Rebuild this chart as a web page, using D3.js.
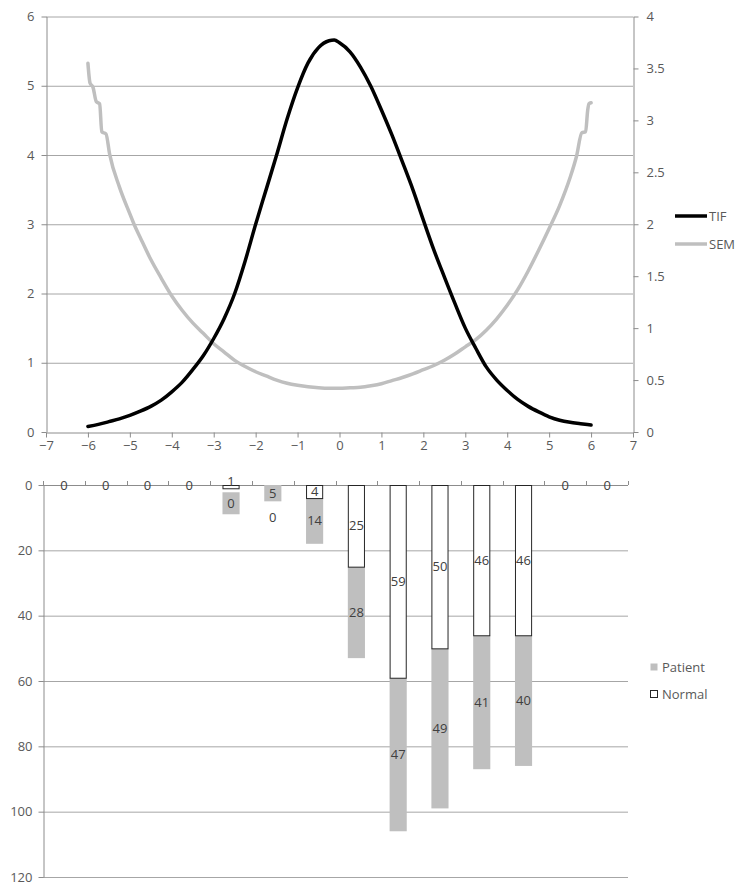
<!DOCTYPE html>
<html>
<head>
<meta charset="utf-8">
<script src="https://cdn.jsdelivr.net/npm/d3@7"></script>
<style>
  html, body { margin: 0; padding: 0; background: #fff; }
  svg { display: block; }
  text { font-family: "Open Sans", "Noto Sans", sans-serif; }
</style>
</head>
<body>
<svg id="chart" width="742" height="891"></svg>
<script>
// ---------- DATA ----------
const tifTheta = [-6, -5.75, -5.5, -5.25, -5, -4.75, -4.5, -4.25, -4, -3.75, -3.5, -3.25, -3, -2.75, -2.5, -2.25, -2, -1.75, -1.5, -1.25, -1, -0.75, -0.5, -0.25, -0.125, 0, 0.25, 0.5, 0.75, 1, 1.25, 1.5, 1.75, 2, 2.25, 2.5, 2.75, 3, 3.25, 3.5, 3.75, 4, 4.25, 4.5, 4.75, 5, 5.25, 5.5, 5.75, 6];
const tifValues = [0.08, 0.11, 0.15, 0.19, 0.24, 0.30, 0.37, 0.46, 0.58, 0.72, 0.90, 1.10, 1.35, 1.64, 2.0, 2.47, 3.0, 3.5, 4.0, 4.52, 4.97, 5.33, 5.55, 5.65, 5.66, 5.62, 5.49, 5.27, 4.99, 4.65, 4.29, 3.9, 3.5, 3.06, 2.63, 2.24, 1.86, 1.5, 1.21, 0.94, 0.75, 0.60, 0.47, 0.37, 0.29, 0.22, 0.17, 0.14, 0.12, 0.10];

const semTheta = [-6, -5.95, -5.88, -5.8, -5.72, -5.67, -5.57, -5.48, -5.25, -5, -4.9, -4.75, -4.5, -4.25, -4, -3.75, -3.5, -3.25, -3, -2.75, -2.5, -2.25, -2, -1.75, -1.5, -1.25, -1, -0.75, -0.5, -0.25, 0, 0.25, 0.5, 0.75, 1, 1.25, 1.5, 1.75, 2, 2.25, 2.5, 2.75, 3, 3.25, 3.5, 3.75, 4, 4.25, 4.5, 4.75, 5, 5.25, 5.5, 5.65, 5.78, 5.87, 5.92, 5.95, 6];
const semValues = [3.55, 3.36, 3.32, 3.18, 3.16, 2.89, 2.87, 2.67, 2.36, 2.1, 2.0, 1.87, 1.66, 1.48, 1.31, 1.17, 1.05, 0.95, 0.85, 0.77, 0.69, 0.63, 0.58, 0.54, 0.5, 0.47, 0.45, 0.435, 0.425, 0.42, 0.42, 0.425, 0.43, 0.445, 0.465, 0.495, 0.525, 0.56, 0.6, 0.64, 0.69, 0.75, 0.82, 0.89, 0.98, 1.09, 1.22, 1.37, 1.55, 1.75, 1.96, 2.18, 2.45, 2.65, 2.88, 2.89, 3.1, 3.16, 3.17];

const topXTicks = [-7, -6, -5, -4, -3, -2, -1, 0, 1, 2, 3, 4, 5, 6, 7];
const leftTicks = [0, 1, 2, 3, 4, 5, 6];
const rightTicks = [0, 0.5, 1, 1.5, 2, 2.5, 3, 3.5, 4];
const topSeries = ["TIF", "SEM"];

const categories = ["-6.5", "-5.5", "-4.5", "-3.5", "-2.5", "-1.5", "-0.5", "0.5", "1.5", "2.5", "3.5", "4.5", "5.5", "6.5"];
const normal  = [0, 0, 0, 0, 1, 0, 4, 25, 59, 50, 46, 46, 0, 0];
const patient = [0, 0, 0, 0, 0, 5, 14, 28, 47, 49, 41, 40, 0, 0];
const bottomTicks = [0, 20, 40, 60, 80, 100, 120];
const bottomSeries = ["Patient", "Normal"];

// ---------- STYLE ----------
const gridColor = "#a6a6a6";
const axisColor = "#8c8c8c";
const tickText = "#595959";
const labelText = "#404040";
const grayFill = "#bfbfbf";
const fs = "13px";

const svg = d3.select("#chart");
svg.append("rect").attr("width", 742).attr("height", 891).attr("fill", "#fff");

// ---------- TOP CHART ----------
const x = d3.scaleLinear().domain([-7, 7]).range([46, 633]);
const yL = d3.scaleLinear().domain([0, 6]).range([432, 16.5]);
const yR = d3.scaleLinear().domain([0, 4]).range([432, 16.5]);

const topG = svg.append("g");
topG.append("g").selectAll("line").data(leftTicks.filter(d => d > 0)).join("line")
  .attr("x1", x(-7)).attr("x2", x(7))
  .attr("y1", d => yL(d) + 0.5).attr("y2", d => yL(d) + 0.5)
  .attr("stroke", gridColor).attr("stroke-width", 1);

function styleAxis(g) {
  g.select(".domain").attr("stroke", axisColor);
  g.selectAll(".tick line").attr("stroke", axisColor);
  g.selectAll(".tick text").attr("fill", tickText).style("font-size", fs)
    .style("font-family", '"Open Sans", "Noto Sans", sans-serif');
}

topG.append("g").attr("transform", "translate(46.5,0)")
  .call(d3.axisLeft(yL).tickValues(leftTicks).tickFormat(d3.format("d")).tickSize(5).tickSizeOuter(0).tickPadding(7))
  .call(styleAxis);
topG.append("g").attr("transform", `translate(${x(7) + 0.5},0)`)
  .call(d3.axisRight(yR).tickValues(rightTicks).tickFormat(d => String(d)).tickSize(5).tickSizeOuter(0).tickPadding(8))
  .call(styleAxis);
topG.append("g").attr("transform", `translate(0,${yL(0) + 0.5})`)
  .call(d3.axisBottom(x).tickValues(topXTicks).tickFormat(d3.format("d")).tickSize(5).tickSizeOuter(0).tickPadding(3))
  .call(styleAxis);

const tifData = tifTheta.map((t, i) => [t, tifValues[i]]);
const semData = semTheta.map((t, i) => [t, semValues[i]]);

topG.append("path").datum(semData)
  .attr("fill", "none").attr("stroke", grayFill).attr("stroke-width", 3.5)
  .attr("stroke-linejoin", "round").attr("stroke-linecap", "round")
  .attr("d", d3.line().x(d => x(d[0])).y(d => yR(d[1])).curve(d3.curveMonotoneX));

topG.append("path").datum(tifData)
  .attr("fill", "none").attr("stroke", "#000").attr("stroke-width", 3.5)
  .attr("stroke-linejoin", "round").attr("stroke-linecap", "round")
  .attr("d", d3.line().x(d => x(d[0])).y(d => yL(d[1])).curve(d3.curveMonotoneX));

// top legend
const topLegColors = { TIF: "#000", SEM: grayFill };
const tl = topG.append("g").selectAll("g").data(topSeries).join("g")
  .attr("transform", (d, i) => `translate(675,${216 + i * 28})`);
tl.append("line").attr("x1", 0).attr("x2", 32).attr("y1", 0).attr("y2", 0)
  .attr("stroke", d => topLegColors[d]).attr("stroke-width", 3.5);
tl.append("text").attr("x", 34).attr("y", 0).attr("dy", "0.35em")
  .attr("fill", tickText).style("font-size", fs).text(d => d);

// ---------- BOTTOM CHART ----------
const xb = d3.scaleBand().domain(categories).range([43, 628]).paddingInner(0.59).paddingOuter(0.295);
const yb = d3.scaleLinear().domain([0, 120]).range([485, 877]);

const bot = svg.append("g");
bot.append("g").selectAll("line").data(bottomTicks.filter(d => d > 0)).join("line")
  .attr("x1", 43).attr("x2", 628)
  .attr("y1", d => yb(d) + 0.5).attr("y2", d => yb(d) + 0.5)
  .attr("stroke", gridColor).attr("stroke-width", 1);

bot.append("g").attr("transform", "translate(43.5,0)")
  .call(d3.axisLeft(yb).tickValues(bottomTicks).tickFormat(d3.format("d")).tickSize(5).tickSizeOuter(0).tickPadding(6))
  .call(styleAxis);

bot.append("line").attr("x1", 43).attr("x2", 628).attr("y1", yb(0) + 0.5).attr("y2", yb(0) + 0.5)
  .attr("stroke", axisColor);
const bounds = categories.map(c => xb(c) - xb.step() * 0.295).concat([628]);
bot.append("g").selectAll("line").data(bounds).join("line")
  .attr("x1", d => Math.round(d) + 0.5).attr("x2", d => Math.round(d) + 0.5)
  .attr("y1", yb(0) - 4).attr("y2", yb(0))
  .attr("stroke", axisColor);

const rows = categories.map((c, i) => ({ c, n: normal[i], p: patient[i] }));

bot.append("g").selectAll("rect").data(rows.filter(r => r.p > 0)).join("rect")
  .attr("x", r => xb(r.c)).attr("width", xb.bandwidth())
  .attr("y", r => yb(r.n)).attr("height", r => yb(r.n + r.p) - yb(r.n))
  .attr("fill", grayFill);

bot.append("g").selectAll("rect").data(rows.filter(r => r.n > 0)).join("rect")
  .attr("x", r => xb(r.c) + 0.5).attr("width", xb.bandwidth() - 1)
  .attr("y", r => yb(0) + 0.5).attr("height", r => yb(r.n) - yb(0))
  .attr("fill", "#fff").attr("stroke", "#262626").attr("stroke-width", 1);

// data labels (coincident zero labels are drawn once)
const labels = [];
rows.forEach(r => {
  const end = yb(r.n + r.p);
  const oneZero = (r.n === 0) !== (r.p === 0);
  let ny = (yb(0) + yb(r.n)) / 2;
  let py = (yb(r.n) + yb(r.n + r.p)) / 2;
  let pBox = false;
  if (oneZero && r.n === 0) ny = end + 16;
  if (oneZero && r.p === 0) { py = end + 15; pBox = true; }
  if (r.n > 0 && yb(r.n) - yb(0) < 6) ny -= 5;
  labels.push({ c: r.c, v: r.n, y: ny, box: false });
  if (!(r.n === 0 && r.p === 0)) labels.push({ c: r.c, v: r.p, y: py, box: pBox });
});
bot.append("g").selectAll("rect").data(labels.filter(l => l.box)).join("rect")
  .attr("x", l => xb(l.c)).attr("width", xb.bandwidth())
  .attr("y", l => l.y - 11).attr("height", 22)
  .attr("fill", grayFill);
bot.append("g").selectAll("text").data(labels).join("text")
  .attr("x", l => xb(l.c) + xb.bandwidth() / 2).attr("y", l => l.y)
  .attr("dy", "0.35em").attr("text-anchor", "middle")
  .attr("fill", labelText).style("font-size", fs).text(l => l.v);

const bl = bot.append("g").selectAll("g").data(bottomSeries).join("g")
  .attr("transform", (d, i) => `translate(650,${667 + i * 27})`);
bl.append("rect").attr("x", 0.5).attr("y", -3.5).attr("width", 7).attr("height", 7)
  .attr("fill", d => d === "Patient" ? grayFill : "#fff")
  .attr("stroke", d => d === "Patient" ? "none" : "#262626");
bl.append("text").attr("x", 12).attr("y", 0).attr("dy", "0.35em")
  .attr("fill", tickText).style("font-size", fs).text(d => d);
</script>
</body>
</html>
